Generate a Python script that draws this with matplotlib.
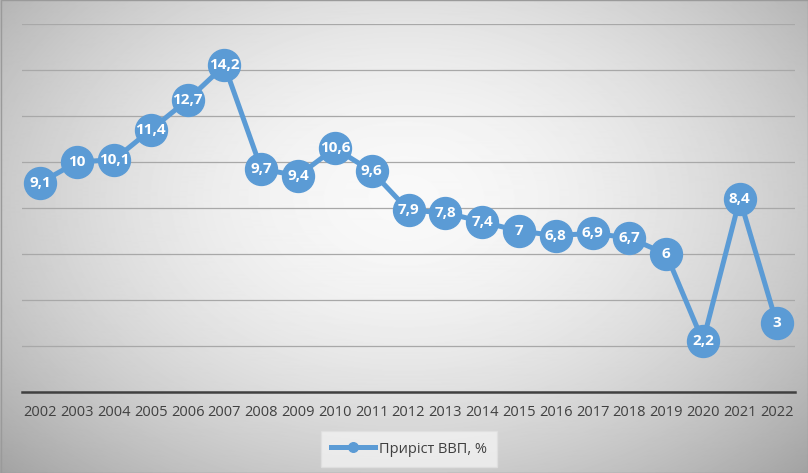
import numpy as np
import matplotlib.pyplot as plt

years = [str(y) for y in range(2002, 2023)]
growth = [9.1, 10, 10.1, 11.4, 12.7, 14.2, 9.7, 9.4, 10.6, 9.6, 7.9, 7.8, 7.4,
          7, 6.8, 6.9, 6.7, 6, 2.2, 8.4, 3]
series_name = "Приріст ВВП, %"

blue = "#5B9BD5"
W, H = 808, 473

plt.rcParams['font.family'] = ['Liberation Sans Narrow', 'Open Sans', 'DejaVu Sans']

fig = plt.figure(figsize=(W / 100, H / 100), dpi=100)

# radial gradient background
bg = fig.add_axes([0, 0, 1, 1])
yy, xx = np.mgrid[0:H, 0:W]
r = np.sqrt(((xx - W * 0.5) / (W * 0.52)) ** 2 + ((yy - H * 0.42) / (H * 0.62)) ** 2)
shade = np.clip(0.975 - 0.2 * r ** 1.8, 0, 1)
bg.imshow(shade, cmap="gray", vmin=0, vmax=1, aspect="auto", interpolation="bilinear")
bg.set_axis_off()
bg.add_patch(plt.Rectangle((0, 0), W - 1, H - 1, fill=False, ec="#9a9a9a", lw=1))

ax = fig.add_axes([22 / W, (H - 392) / H, (795 - 22) / W, (392 - 24) / H])
ax.set_facecolor("none")
x = np.arange(len(years))
ax.plot(x, growth, color=blue, lw=3.6, marker="o", ms=23, mfc=blue, mec=blue,
        label=series_name, zorder=3)
for xi, v in zip(x, growth):
    ax.text(xi, v, f"{v:g}".replace(".", ","), color="white", ha="center", va="center",
            fontsize=11, fontweight="bold", family=['Open Sans', 'DejaVu Sans'],
            zorder=4)

ax.set_xlim(-0.5, len(years) - 0.5)
ax.set_ylim(0, 16)
ax.set_yticks(np.arange(0, 17, 2))
ax.yaxis.grid(True, color="#a8a8a8", lw=0.9)
ax.tick_params(axis="y", left=False, labelleft=False)
ax.set_xticks(x)
ax.set_xticklabels(years, fontsize=10.5, color="#404040")
ax.tick_params(axis="x", length=0, pad=9)
for s in ["top", "right", "left"]:
    ax.spines[s].set_visible(False)
ax.spines["bottom"].set_color("#404040")
ax.spines["bottom"].set_linewidth(1.8)

leg = fig.legend(handles=ax.get_lines(), labels=[series_name], loc="center",
                 bbox_to_anchor=(409 / W, (H - 449) / H), frameon=True, fontsize=10.5,
                 handlelength=3.0, handletextpad=0.3, markerscale=0.3, fancybox=False,
                 borderpad=0.7, borderaxespad=0)
leg.get_frame().set_facecolor("#f2f2f2")
leg.get_frame().set_edgecolor("#e0e0e0")
for t in leg.get_texts():
    t.set_color("#404040")

fig.savefig("out.png", dpi=100)
